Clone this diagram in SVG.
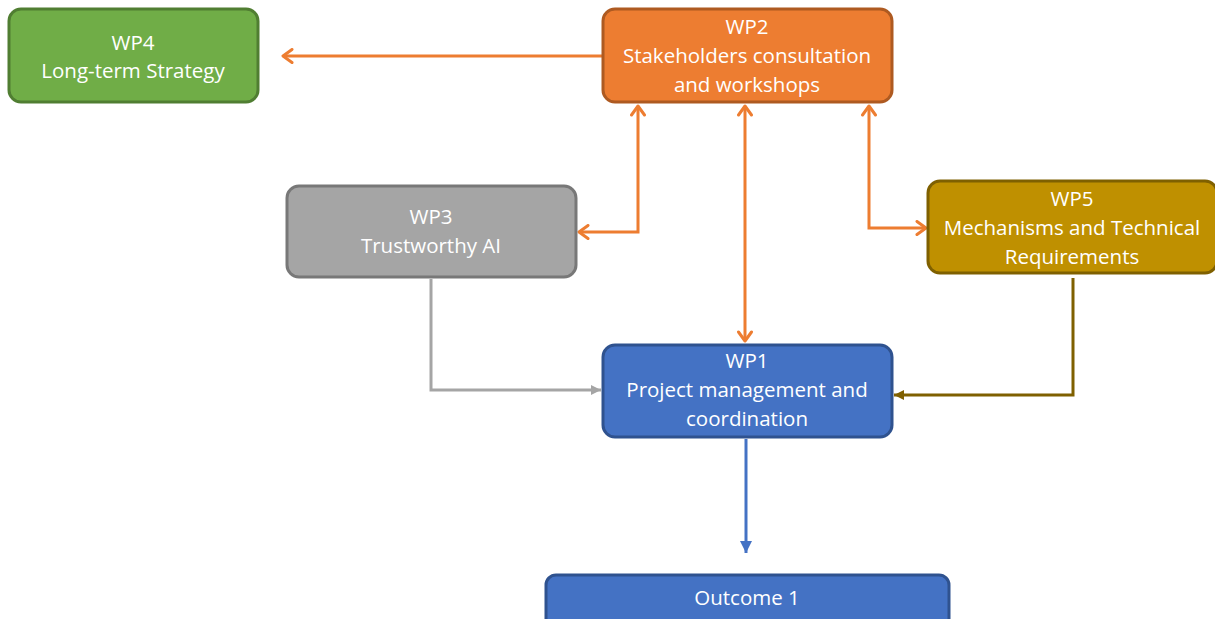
<svg xmlns="http://www.w3.org/2000/svg" width="1215" height="619" viewBox="0 0 1215 619">
<style>
.box{stroke-width:3}
.t{font-family:"Open Sans","Liberation Sans",Arial,sans-serif;font-size:20.5px;fill:#FFFFFF;text-anchor:middle}
.c{fill:none;stroke-width:3}
</style>
<defs>
<marker id="ao" viewBox="0 0 14 16" refX="12" refY="8" markerWidth="14" markerHeight="16" markerUnits="userSpaceOnUse" orient="auto-start-reverse">
<path d="M3,1.5 L12,8 L3,14.5" fill="none" stroke="#ED7D31" stroke-width="3" stroke-linecap="round" stroke-linejoin="round"/>
</marker>
<marker id="ag" viewBox="0 0 10 10" refX="10" refY="5" markerWidth="10" markerHeight="10" markerUnits="userSpaceOnUse" orient="auto">
<path d="M0,0 L10,5 L0,10 Z" fill="#A5A5A5"/>
</marker>
<marker id="ab" viewBox="0 0 10 10" refX="10" refY="5" markerWidth="10" markerHeight="10" markerUnits="userSpaceOnUse" orient="auto">
<path d="M0,0 L10,5 L0,10 Z" fill="#7F6000"/>
</marker>
<marker id="au" viewBox="0 0 12 12" refX="12" refY="6" markerWidth="12" markerHeight="12" markerUnits="userSpaceOnUse" orient="auto">
<path d="M0,0 L12,6 L0,12 Z" fill="#4472C4"/>
</marker>
</defs>
<rect width="1215" height="619" fill="#FFFFFF"/>
<g id="connectors">
<path class="c" stroke="#ED7D31" d="M603,56 L283,56" marker-end="url(#ao)"/>
<path class="c" stroke="#ED7D31" d="M638,106 L638,232 L579,232" marker-start="url(#ao)" marker-end="url(#ao)"/>
<path class="c" stroke="#ED7D31" d="M745,106 L745,341" marker-start="url(#ao)" marker-end="url(#ao)"/>
<path class="c" stroke="#ED7D31" d="M869,106 L869,228 L926,228" marker-start="url(#ao)" marker-end="url(#ao)"/>
<path class="c" stroke="#A5A5A5" d="M431,279 L431,390 L601,390" marker-end="url(#ag)"/>
<path class="c" stroke="#7F6000" d="M1073,278 L1073,395 L894,395" marker-end="url(#ab)"/>
<path class="c" stroke="#4472C4" d="M746,439 L746,553" marker-end="url(#au)"/>
</g>
<g id="wp4">
<rect class="box" x="9" y="9" width="249" height="93" rx="12" fill="#70AD47" stroke="#507E32"/>
<text class="t" x="133" y="50">WP4</text>
<text class="t" x="133" y="78">Long-term Strategy</text>
</g>
<g id="wp2">
<rect class="box" x="603" y="9" width="289" height="93" rx="12" fill="#ED7D31" stroke="#AE5A21"/>
<text class="t" x="747" y="34">WP2</text>
<text class="t" x="747" y="63">Stakeholders consultation</text>
<text class="t" x="747" y="92">and workshops</text>
</g>
<g id="wp3">
<rect class="box" x="287" y="186" width="289" height="91" rx="12" fill="#A5A5A5" stroke="#787878"/>
<text class="t" x="431" y="224">WP3</text>
<text class="t" x="431" y="253">Trustworthy AI</text>
</g>
<g id="wp5">
<rect class="box" x="928" y="181" width="289" height="92" rx="12" fill="#BF9000" stroke="#7F6000"/>
<text class="t" x="1072" y="206">WP5</text>
<text class="t" x="1072" y="235">Mechanisms and Technical</text>
<text class="t" x="1072" y="264">Requirements</text>
</g>
<g id="wp1">
<rect class="box" x="603" y="345" width="289" height="92" rx="12" fill="#4472C4" stroke="#2F528F"/>
<text class="t" x="747" y="368">WP1</text>
<text class="t" x="747" y="397">Project management and</text>
<text class="t" x="747" y="426">coordination</text>
</g>
<g id="outcome1">
<rect class="box" x="546" y="575" width="403" height="60" rx="10" fill="#4472C4" stroke="#2F528F"/>
<text class="t" x="747" y="605">Outcome 1</text>
</g>
</svg>
